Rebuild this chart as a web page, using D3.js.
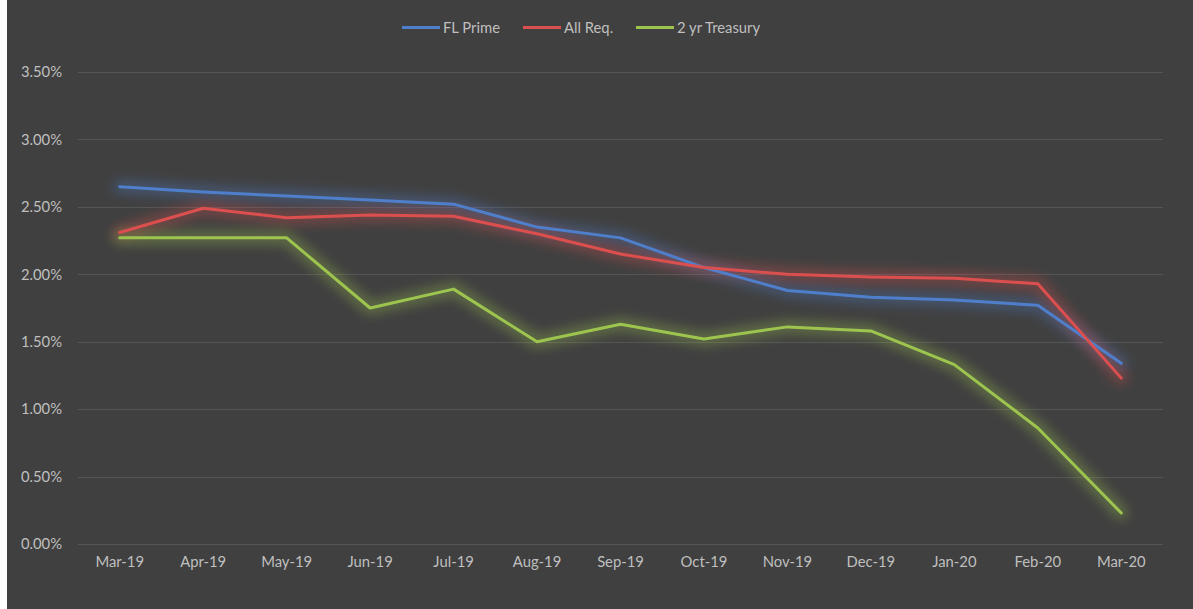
<!DOCTYPE html>
<html><head><meta charset="utf-8">
<script src="https://cdn.jsdelivr.net/npm/d3@7"></script>
<style>
html,body{margin:0;padding:0;background:#fff;}
svg{display:block;}
</style></head>
<body>
<script>
const categories = ["Mar-19","Apr-19","May-19","Jun-19","Jul-19","Aug-19","Sep-19","Oct-19","Nov-19","Dec-19","Jan-20","Feb-20","Mar-20"];
const flPrime = [2.65,2.61,2.58,2.55,2.52,2.35,2.27,2.05,1.88,1.83,1.81,1.77,1.34];
const allReq = [2.31,2.49,2.42,2.44,2.43,2.30,2.15,2.05,2.00,1.98,1.97,1.93,1.23];
const treasury2yr = [2.27,2.27,2.27,1.75,1.89,1.50,1.63,1.52,1.61,1.58,1.33,0.86,0.23];
const yTicks = [0,0.5,1,1.5,2,2.5,3,3.5];
const seriesNames = ["FL Prime","All Req.","2 yr Treasury"];
const seriesColors = ["#4f7fcb","#dc4f4f","#9dc44e"];

const W = 1193, H = 609;
const svg = d3.select("body").append("svg").attr("width", W).attr("height", H);
svg.append("rect").attr("width", W).attr("height", H).attr("fill", "#404040");
svg.append("rect").attr("width", 7).attr("height", H).attr("fill", "#ffffff");

const font = "Lato, 'Open Sans', sans-serif";
const fs = "14.8px";
const plot = {l: 78, r: 1163, t: 72, b: 544};
const x = d3.scaleBand().domain(categories).range([plot.l, plot.r]);
const y = d3.scaleLinear().domain([0, 3.5]).range([plot.b, plot.t]);

const defs = svg.append("defs");
seriesColors.forEach((c, i) => {
  const f = defs.append("filter").attr("id", "glow" + i)
    .attr("x", "-10%").attr("y", "-20%").attr("width", "120%").attr("height", "140%");
  f.append("feGaussianBlur").attr("in", "SourceGraphic").attr("stdDeviation", 6).attr("result", "b");
  f.append("feComponentTransfer").attr("in", "b").attr("result", "b2")
    .append("feFuncA").attr("type", "linear").attr("slope", 0.4);
});

// gridlines
svg.append("g").selectAll("line").data(yTicks).join("line")
  .attr("x1", plot.l).attr("x2", plot.r)
  .attr("y1", d => Math.round(y(d)) + 0.5).attr("y2", d => Math.round(y(d)) + 0.5)
  .attr("stroke", "#555555").attr("stroke-width", 1);

// y axis
const yAxis = d3.axisLeft(y).tickValues(yTicks).tickFormat(d => d.toFixed(2) + "%").tickSize(0).tickPadding(0);
const ya = svg.append("g").attr("transform", `translate(${plot.l - 16},0)`).call(yAxis);
ya.select(".domain").remove();
ya.selectAll("text").attr("fill", "#bfbfbf").style("font-family", font).style("font-size", fs);

// x axis
const xAxis = d3.axisBottom(x).tickSize(0).tickPadding(0);
const xa = svg.append("g").attr("transform", `translate(0,${plot.b + 12})`).call(xAxis);
xa.select(".domain").remove();
xa.selectAll("text").attr("fill", "#bfbfbf").style("font-family", font).style("font-size", fs);

const series = [flPrime, allReq, treasury2yr];
const line = d3.line().x((d, i) => x(categories[i]) + x.bandwidth() / 2).y(d => y(d));

// glow layers
series.forEach((s, i) => {
  svg.append("path").datum(s).attr("d", line).attr("fill", "none")
    .attr("stroke", seriesColors[i]).attr("stroke-width", 14).attr("stroke-linejoin", "round")
    .attr("stroke-linecap", "round").attr("opacity", 0.85)
    .attr("filter", `url(#glow${i})`);
});
series.forEach((s, i) => {
  svg.append("path").datum(s).attr("d", line).attr("fill", "none")
    .attr("stroke", seriesColors[i]).attr("stroke-width", 3).attr("stroke-linejoin", "round")
    .attr("stroke-linecap", "round");
});

// legend
const legendX = [402, 523, 636];
const lg = svg.append("g");
seriesNames.forEach((n, i) => {
  lg.append("line").attr("x1", legendX[i]).attr("x2", legendX[i] + 38)
    .attr("y1", 27.5).attr("y2", 27.5).attr("stroke", seriesColors[i]).attr("stroke-width", 3);
  lg.append("text").attr("x", legendX[i] + 41).attr("y", 33).text(n)
    .attr("fill", "#bfbfbf").style("font-family", font).style("font-size", fs);
});
</script>
</body></html>
